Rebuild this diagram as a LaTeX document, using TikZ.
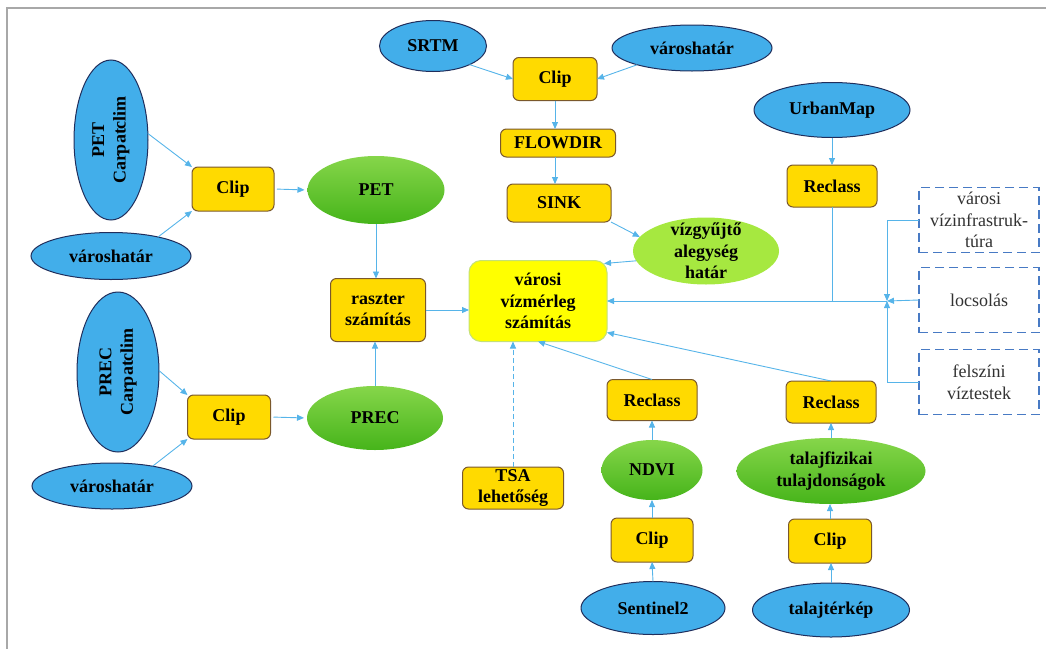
\documentclass[tikz,border=0pt]{standalone}
\usepackage{fontspec}
\setmainfont{Liberation Serif}
\usetikzlibrary{arrows.meta,shapes.geometric,calc}
\definecolor{lineblue}{RGB}{86,180,233}
\definecolor{ellblue}{RGB}{66,174,234}
\definecolor{ellborder}{RGB}{32,46,92}
\definecolor{gold}{RGB}{255,218,0}
\definecolor{goldborder}{RGB}{122,88,44}
\definecolor{gtop}{RGB}{134,214,74}
\definecolor{gbot}{RGB}{70,180,26}
\definecolor{lightgreen}{RGB}{166,232,64}
\definecolor{mainyellow}{RGB}{255,255,0}
\definecolor{mainborder}{RGB}{196,224,120}
\definecolor{dashblue}{RGB}{72,122,196}
\definecolor{framegrey}{RGB}{168,168,168}
\definecolor{softtext}{RGB}{50,50,50}

\begin{document}
\begin{tikzpicture}[x=1pt,y=-1pt,
  every node/.style={inner sep=0pt,outer sep=0pt},
  txt/.style={font=\fontsize{18}{21.5}\selectfont\bfseries,align=center,text=black},
  plaintxt/.style={font=\fontsize{18}{21.5}\selectfont,align=center,text=softtext},
  blueell/.style={ellipse,draw=ellborder,line width=1pt,fill=ellblue},
  greenell/.style={ellipse,draw=none,top color=gtop,bottom color=gbot},
  lightell/.style={ellipse,draw=none,fill=lightgreen},
  goldbox/.style={rectangle,rounded corners=6pt,draw=goldborder,line width=1pt,fill=gold,
    font=\fontsize{18}{21.5}\selectfont\bfseries,align=center},
  mainbox/.style={rectangle,rounded corners=12pt,draw=mainborder,line width=1pt,fill=mainyellow},
  dashbox/.style={rectangle,draw=dashblue,line width=1.4pt,dash pattern=on 9pt off 5pt,fill=white},
  link/.style={draw=lineblue,line width=0.9pt,-{Triangle[length=7pt,width=6pt]}},
  plainlink/.style={draw=lineblue,line width=0.9pt},
]
\useasboundingbox (0,0) rectangle (1046,648);
\draw[framegrey,line width=2pt] (7,660) -- (7,8) -- (1060,8);

% ---- PET branch
\node[blueell,minimum width=74,minimum height=160] (petc) at (111,140) {};
\node[txt,rotate=90] at (petc) {PET\\Carpatclim};
\node[blueell,minimum width=160,minimum height=47] (vh1) at (111,256) {};
\node[txt] at (vh1) {városhatár};
\node[goldbox,minimum width=82,minimum height=44] (clip1) at (233,189) {Clip};
\node[greenell,minimum width=137,minimum height=68] (pet) at (376,190) {};
\node[txt] at (pet) {PET};

% ---- PREC branch
\node[blueell,minimum width=82,minimum height=160] (precc) at (118,372) {};
\node[txt,rotate=90] at (precc) {PREC\\Carpatclim};
\node[blueell,minimum width=160,minimum height=46] (vh2) at (112,486) {};
\node[txt] at (vh2) {városhatár};
\node[goldbox,minimum width=83,minimum height=44] (clip2) at (229,417) {Clip};
\node[greenell,minimum width=136,minimum height=64] (prec) at (375,418) {};
\node[txt] at (prec) {PREC};

\node[goldbox,minimum width=95,minimum height=63] (rasz) at (378,310) {raszter\\számítás};

% ---- central result
\node[mainbox,minimum width=138,minimum height=81] (vm) at (538,301) {};
\node[txt] at (vm) {városi\\vízmérleg\\számítás};

% ---- terrain branch
\node[blueell,minimum width=107,minimum height=51] (srtm) at (433,46) {};
\node[txt] at (srtm) {SRTM};
\node[blueell,minimum width=160,minimum height=46] (vh3) at (692,48) {};
\node[txt] at (vh3) {városhatár};
\node[goldbox,minimum width=84,minimum height=43] (clip3) at (555,79) {Clip};
\node[goldbox,minimum width=115,minimum height=28] (flow) at (558,143) {FLOWDIR};
\node[goldbox,minimum width=104,minimum height=38] (sink) at (559,203) {SINK};
\node[lightell,minimum width=146,minimum height=67] (vgy) at (706,251) {};
\node[txt] at (vgy) {vízgyűjtő\\alegység\\határ};

% ---- urban map branch
\node[blueell,minimum width=156,minimum height=55] (urb) at (832,110) {};
\node[txt] at (urb) {UrbanMap};
\node[goldbox,minimum width=90,minimum height=42] (rc1) at (832,186) {Reclass};

% ---- optional inputs
\node[dashbox,minimum width=120,minimum height=65] (vi) at (979,220) {};
\node[plaintxt] at (vi) {városi\\vízinfrastruk-\\túra};
\node[dashbox,minimum width=120,minimum height=65] (lo) at (979,300) {};
\node[plaintxt] at (lo) {locsolás};
\node[dashbox,minimum width=120,minimum height=65] (fv) at (979,382) {};
\node[plaintxt] at (fv) {felszíni\\víztestek};
\coordinate (J) at (887,301);

% ---- vegetation branch
\node[goldbox,minimum width=90,minimum height=41] (rc2) at (652,400) {Reclass};
\node[greenell,minimum width=101,minimum height=60] (ndvi) at (652,470) {};
\node[txt] at (ndvi) {NDVI};
\node[goldbox,minimum width=82,minimum height=44] (clip4) at (652,540) {Clip};
\node[blueell,minimum width=144,minimum height=53] (s2) at (653,608) {};
\node[txt] at (s2) {Sentinel2};

% ---- soil branch
\node[goldbox,minimum width=90,minimum height=42] (rc3) at (831,402) {Reclass};
\node[greenell,minimum width=189,minimum height=66] (talf) at (831,471) {};
\node[txt] at (talf) {talajfizikai\\tulajdonságok};
\node[goldbox,minimum width=83,minimum height=44] (clip5) at (830,541) {Clip};
\node[blueell,minimum width=157,minimum height=54] (talt) at (831,610) {};
\node[txt] at (talt) {talajtérkép};

% ---- TSA
\node[goldbox,minimum width=101,minimum height=42] (tsa) at (513,488) {TSA\\lehetőség};

% ---- connectors
\draw[link] (petc.10) -- (clip1.north west);
\draw[link] (vh1.22) -- (clip1.south west);
\draw[link,shorten <=3pt,shorten >=3pt] (clip1.east) -- (pet.west);
\draw[link] (pet.south) -- (pet.south |- rasz.north);
\draw[link] (precc.2) -- (clip2.north west);
\draw[link] (vh2.26) -- (clip2.south west);
\draw[link,shorten <=3pt,shorten >=3pt] (clip2.east) -- (prec.west);
\draw[link] (prec.north) -- (prec.north |- rasz.south);
\draw[link] (rasz.east) -- (rasz.east -| vm.west);

\draw[link] (srtm.-27) -- (clip3.west);
\draw[link] (vh3.197) -- (clip3.east);
\draw[link] (clip3.south) -- (clip3.south |- flow.north);
\draw[link] (flow.south -| clip3.south) -- (clip3.south |- sink.north);
\draw[link] (sink.south east) -- (vgy.168);
\draw[link] (vgy.188) -- ($(vm.north east)+(-3,3)$);

\draw[link] (urb.south) -- (rc1.north);
\draw[plainlink] (rc1.south) -- (rc1.south |- J);
\draw[link] (J) -- (vm.east);
\draw[link] (lo.west) -- (J);
\draw[link] (vi.west) -| (J);
\draw[link] (fv.west) -| (J);

\draw[link] (s2.north) -- (clip4.south);
\draw[link] (clip4.north) -- (ndvi.south);
\draw[link] (ndvi.north) -- (rc2.south);
\draw[link] (rc2.north) -- (vm.south);

\draw[link] (talt.north) -- (talt.north |- clip5.south);
\draw[link] (clip5.north) -- (clip5.north |- talf.south);
\draw[link] (talf.north) -- (talf.north |- rc3.south);
\draw[link] (rc3.north) -- ($(vm.south east)+(0,-9)$);

\draw[link,dash pattern=on 5pt off 3pt] (tsa.north) -- (tsa.north |- vm.south);
\end{tikzpicture}
\end{document}
